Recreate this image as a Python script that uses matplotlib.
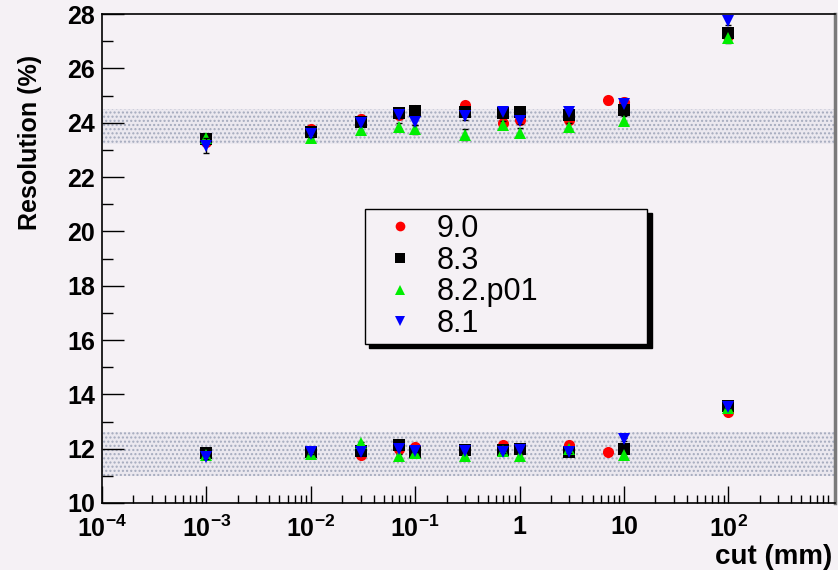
import numpy as np
import matplotlib
matplotlib.use("Agg")
import matplotlib.pyplot as plt
from matplotlib.lines import Line2D
from matplotlib.ticker import FixedLocator, LogLocator, NullFormatter

plt.rcParams['font.family'] = ['Liberation Sans', 'DejaVu Sans']
plt.rcParams['mathtext.fontset'] = 'custom'
plt.rcParams['mathtext.rm'] = 'Liberation Sans:bold'
plt.rcParams['mathtext.bf'] = 'Liberation Sans:bold'
plt.rcParams['hatch.linewidth'] = 1.0

# cut values (mm); 9.0 also has a point at 7 mm
cut_90 = [1e-3, 1e-2, 3e-2, 7e-2, 1e-1, 3e-1, 7e-1, 1, 3, 7, 10, 100]
cut = [1e-3, 1e-2, 3e-2, 7e-2, 1e-1, 3e-1, 7e-1, 1, 3, 10, 100]

# upper group of resolutions (%)
hi_90 = [23.3, 23.75, 24.15, 24.3, 24.45, 24.65, 23.98, 24.1, 24.1, 24.82, 24.75, 27.2]
hi_83 = [23.4, 23.67, 24.04, 24.35, 24.44, 24.38, 24.35, 24.38, 24.28, 24.45, 27.3]
hi_82 = [23.45, 23.42, 23.73, 23.85, 23.76, 23.55, 23.91, 23.63, 23.85, 24.07, 27.1]
hi_81 = [23.15, 23.6, 24.0, 24.28, 24.04, 24.25, 24.38, 24.06, 24.4, 24.7, 27.75]

# lower group of resolutions (%)
lo_90 = [11.8, 11.8, 11.75, 12.0, 12.06, 11.95, 12.14, 11.95, 12.14, 11.87, 12.0, 13.36]
lo_83 = [11.83, 11.89, 11.9, 12.14, 11.86, 11.95, 11.95, 12.0, 11.89, 12.0, 13.57]
lo_82 = [11.75, 11.8, 12.2, 11.73, 11.85, 11.73, 11.9, 11.73, 12.0, 11.77, 13.5]
lo_81 = [11.68, 11.87, 11.89, 12.0, 11.93, 11.93, 11.89, 11.95, 11.89, 12.35, 13.55]

# errors
hi_err_90 = [0.12, 0.12, 0.12, 0.12, 0.12, 0.12, 0.12, 0.12, 0.12, 0.12, 0.14, 0.15]
hi_err_83 = [0.12, 0.12, 0.12, 0.12, 0.12, 0.12, 0.12, 0.12, 0.12, 0.14, 0.15]
hi_err_82 = [0.14, 0.14, 0.14, 0.14, 0.16, 0.2, 0.14, 0.16, 0.14, 0.16, 0.15]
hi_err_81 = [0.28, 0.14, 0.12, 0.12, 0.12, 0.14, 0.12, 0.12, 0.12, 0.14, 0.15]
lo_err = 0.06

# shaded bands
band_hi = (23.2, 24.5)
band_lo = (11.0, 12.6)

versions = ['9.0', '8.3', '8.2.p01', '8.1']
colors = ['#ff0000', '#000000', '#00ee00', '#0000ff']
markers = ['o', 's', '^', 'v']

xticks = [1e-4, 1e-3, 1e-2, 1e-1, 1, 10, 100]
xticklabels = [r'$10^{-4}$', r'$10^{-3}$', r'$10^{-2}$', r'$10^{-1}$', '1', '10', r'$10^{2}$']

bg = '#f5f1f5'
fig = plt.figure(figsize=(8.38, 5.70), dpi=100, facecolor=bg)
ax = fig.add_axes([102/838, 1-503/570, 733/838, 489/570], facecolor=bg)

for lo, hi in (band_hi, band_lo):
    ax.axhspan(lo, hi, facecolor='#ebe8ef', edgecolor='#a4aabd', hatch='....', linewidth=0, zorder=0)

series = [
    (cut_90, hi_90, hi_err_90, lo_90),
    (cut, hi_83, hi_err_83, lo_83),
    (cut, hi_82, hi_err_82, lo_82),
    (cut, hi_81, hi_err_81, lo_81),
]
for i, (xs, hi, hie, lo) in enumerate(series):
    for ys, es in ((hi, hie), (lo, lo_err)):
        ax.errorbar(xs, ys, yerr=es, fmt='none', ecolor='black', elinewidth=1,
                    capsize=2, capthick=1, zorder=2 + i)
        ax.plot(xs, ys, linestyle='none', marker=markers[i], color=colors[i],
                markersize=8, markeredgewidth=0, zorder=2.5 + i)

ax.set_xscale('log')
ax.set_xlim(1e-4, 1.05e3)
ax.set_ylim(10, 28)

ax.xaxis.set_major_locator(FixedLocator(xticks))
ax.set_xticklabels(xticklabels)
ax.xaxis.set_minor_locator(LogLocator(base=10, subs=np.arange(2, 10), numticks=20))
ax.xaxis.set_minor_formatter(NullFormatter())
ax.set_yticks(np.arange(10, 29, 2))
ax.set_yticks(np.arange(11, 28, 2), minor=True)

ax.tick_params(axis='both', which='both', direction='in', width=1, colors='black')
ax.tick_params(axis='y', which='major', length=16, pad=5, labelsize=18)
ax.tick_params(axis='y', which='minor', length=8)
ax.tick_params(axis='x', which='major', length=12, pad=9, labelsize=18)
ax.tick_params(axis='x', which='minor', length=6)
for lab in ax.get_yticklabels():
    lab.set_fontweight('bold')
for lab in ax.get_xticklabels():
    lab.set_fontweight('bold')

for s in ('left', 'bottom', 'top'):
    ax.spines[s].set_color('black')
    ax.spines[s].set_linewidth(1.2)
ax.spines['right'].set_color('#7a7a7a')
ax.spines['right'].set_linewidth(2.5)

fig.text(30/838, 1-55/570, 'Resolution (%)', rotation=90, ha='center', va='top',
         fontsize=18, fontweight='bold')
fig.text(832/838, 1-564/570, 'cut (mm)', ha='right', va='baseline',
         fontsize=20, fontweight='bold')

handles = [Line2D([], [], linestyle='none', marker=m, color=c, markersize=7, markeredgewidth=0)
           for m, c in zip(markers, colors)]
leg = ax.legend(handles, versions, loc='upper left', bbox_to_anchor=(0.359, 0.601, 0.385, 0.0),
                mode='expand', fontsize=22, frameon=True, fancybox=False,
                handlelength=2.0, handletextpad=0.2, borderpad=0.15, labelspacing=0.06,
                borderaxespad=0, shadow={'ox': 3, 'oy': -3, 'color': 'black', 'alpha': 1})
leg.get_frame().set_edgecolor('black')
leg.get_frame().set_facecolor(bg)
leg.get_frame().set_linewidth(1.0)
leg.get_frame().set_alpha(1)

fig.savefig('out.png', dpi=100, facecolor=bg)
